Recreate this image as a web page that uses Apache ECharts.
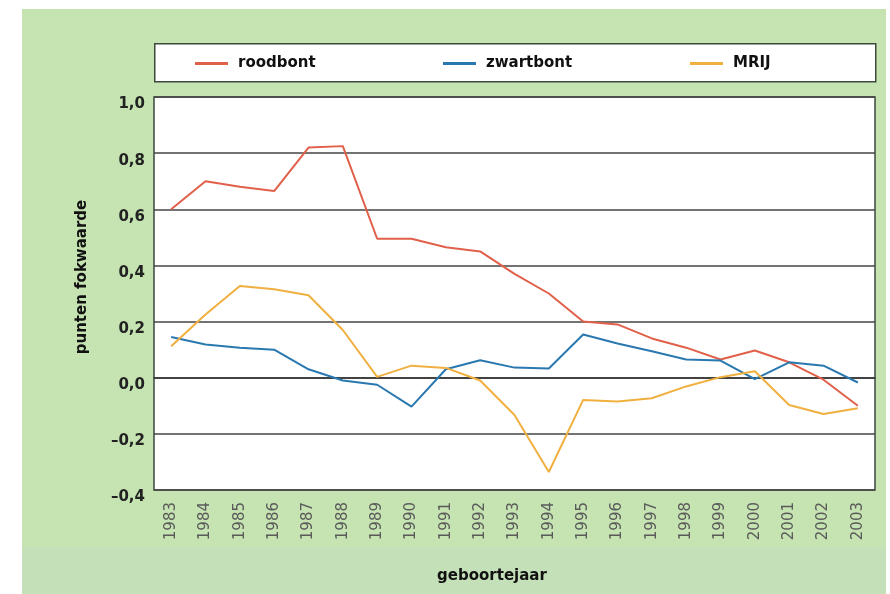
<!DOCTYPE html>
<html>
<head>
<meta charset="utf-8">
<script src="https://cdn.jsdelivr.net/npm/echarts@6/dist/echarts.min.js"></script>
<style>
html, body { margin: 0; padding: 0; background: #fff; }
#main { width: 890px; height: 594px; }
</style>
</head>
<body>
<div id="main"></div>
<script>
// geboortejaren
var years = ['1983', '1984', '1985', '1986', '1987', '1988', '1989', '1990', '1991', '1992',
    '1993', '1994', '1995', '1996', '1997', '1998', '1999', '2000', '2001', '2002', '2003'];

var roodbont = [0.60, 0.70, 0.68, 0.665, 0.82, 0.825, 0.495, 0.495, 0.465, 0.45,
    0.37, 0.30, 0.20, 0.19, 0.14, 0.107, 0.065, 0.097, 0.055, -0.007, -0.10];
var zwartbont = [0.145, 0.118, 0.107, 0.10, 0.03, -0.01, -0.025, -0.103, 0.03, 0.062,
    0.036, 0.033, 0.154, 0.122, 0.094, 0.065, 0.061, -0.005, 0.055, 0.043, -0.017];
var mrij = [0.112, 0.225, 0.327, 0.315, 0.294, 0.17, 0.003, 0.043, 0.035, -0.01,
    -0.133, -0.336, -0.079, -0.085, -0.073, -0.031, 0.002, 0.023, -0.097, -0.129, -0.109];

var chartDom = document.getElementById('main');
var myChart = echarts.init(chartDom);
var option;

var fnt = 'DejaVu Sans, sans-serif';

function lineSerie(name, data, color) {
    return {
        name: name,
        type: 'line',
        data: data,
        symbol: 'none',
        z: 5,
        lineStyle: { color: color, width: 2 },
        itemStyle: { color: color }
    };
}

function legendAt(name, left) {
    return {
        data: [name],
        left: left,
        top: 56,
        padding: 0,
        icon: 'rect',
        itemWidth: 33,
        itemHeight: 3,
        itemGap: 0,
        selectedMode: false,
        textStyle: { fontFamily: fnt, fontSize: 15, fontWeight: 'bold', color: '#111', padding: [0, 0, 0, 5] }
    };
}

option = {
    animation: false,
    backgroundColor: '#fff',
    graphic: [
        // groene achtergrond
        { type: 'rect', left: 22, top: 9, z: -10, shape: { width: 864, height: 538 }, style: { fill: '#c6e3b2' } },
        { type: 'rect', left: 22, top: 547, z: -10, shape: { width: 864, height: 47 }, style: { fill: '#c4e0b8' } },
        // legenda kader
        { type: 'rect', left: 154, top: 43, z: -5, shape: { width: 721, height: 38 }, style: { fill: '#fff', stroke: '#3c4a3c', lineWidth: 1.5 } },
        {
            type: 'text', x: 82, y: 277, rotation: Math.PI / 2,
            style: { text: 'punten fokwaarde', fontFamily: fnt, fontSize: 15, fontWeight: 'bold', fill: '#111', align: 'center', verticalAlign: 'middle' }
        },
        {
            type: 'text', x: 492, y: 576,
            style: { text: 'geboortejaar', fontFamily: fnt, fontSize: 15, fontWeight: 'bold', fill: '#111', align: 'center', verticalAlign: 'middle' }
        }
    ],
    legend: [
        legendAt('roodbont', 195),
        legendAt('zwartbont', 443),
        legendAt('MRIJ', 690)
    ],
    grid: {
        left: 154,
        right: 15,
        top: 97,
        bottom: 104,
        show: true,
        backgroundColor: '#fff',
        borderColor: '#3c4a3c',
        borderWidth: 1.5
    },
    xAxis: {
        type: 'category',
        data: years,
        boundaryGap: true,
        axisLine: { lineStyle: { color: '#333', width: 1.5 } },
        axisTick: { inside: true, alignWithLabel: true, length: 8, lineStyle: { color: '#333' } },
        axisLabel: { rotate: 90, interval: 0, margin: 12, fontFamily: fnt, fontSize: 15, color: '#5a5a5a' },
        splitLine: { show: false }
    },
    yAxis: {
        type: 'value',
        min: -0.4,
        max: 1.0,
        interval: 0.2,
        axisLine: { show: false },
        axisTick: { show: false },
        axisLabel: {
            margin: 9,
            verticalAlign: 'top',
            fontFamily: fnt,
            fontSize: 15,
            fontWeight: 'bold',
            color: '#222',
            formatter: function (v) {
                var s = Math.abs(v).toFixed(1).replace('.', ',');
                return v < -0.001 ? '\u2013' + s : s;
            }
        },
        splitLine: { lineStyle: { color: '#444', width: 1.5 } }
    },
    series: [
        lineSerie('roodbont', roodbont, '#e0604a'),
        lineSerie('zwartbont', zwartbont, '#2a78b0'),
        lineSerie('MRIJ', mrij, '#f0b040')
    ]
};

option && myChart.setOption(option);
</script>
</body>
</html>
